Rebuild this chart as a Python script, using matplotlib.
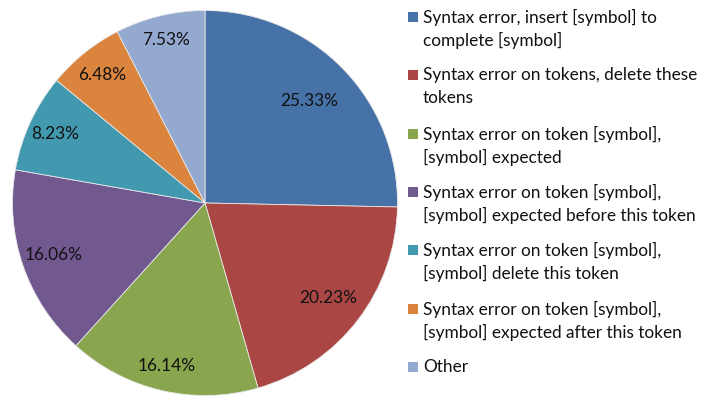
import matplotlib
matplotlib.use("Agg")
import numpy as np
import matplotlib.pyplot as plt
from matplotlib.patches import Rectangle

categories = [
    "Syntax error, insert [symbol] to\ncomplete [symbol]",
    "Syntax error on tokens, delete these\ntokens",
    "Syntax error on token [symbol],\n[symbol] expected",
    "Syntax error on token [symbol],\n[symbol] expected before this token",
    "Syntax error on token [symbol],\n[symbol] delete this token",
    "Syntax error on token [symbol],\n[symbol] expected after this token",
    "Other",
]
values = [25.33, 20.23, 16.14, 16.06, 8.23, 6.48, 7.53]
colors = ["#4672A7", "#AA4644", "#89A54E", "#71588F", "#4198AF", "#DB843D", "#93A9CF"]
label_dist = [0.76, 0.81, 0.87, 0.83, 0.86, 0.85, 0.87]

FONT = ["Lato", "DejaVu Sans"]
FS = 12.4
W, H = 707, 404
fig = plt.figure(figsize=(W / 100, H / 100), dpi=100)
fig.patch.set_facecolor("white")

cx, cy, r = 205, 201, 192.5
ax = fig.add_axes([(cx - r) / W, (cy - r) / H, 2 * r / W, 2 * r / H])
wedges, texts, autotexts = ax.pie(
    values, colors=colors, startangle=90, counterclock=False,
    autopct=lambda p: f"{p:.2f}%", pctdistance=0.83, radius=1.0,
    wedgeprops=dict(edgecolor="#e8e8e8", linewidth=0.6),
    textprops=dict(fontsize=FS, family=FONT, color="#111111"),
)
for w, t, d in zip(wedges, autotexts, label_dist):
    a = np.deg2rad((w.theta1 + w.theta2) / 2)
    t.set_position((d * np.cos(a), d * np.sin(a)))
ax.set_xlim(-1, 1)
ax.set_ylim(-1, 1)
ax.set_aspect("equal")
ax.axis("off")

# legend drawn manually
first_y = [17, 75, 134, 192, 250, 309, 367]
line_h = 23
for i, (lab, c) in enumerate(zip(categories, colors)):
    ytop = first_y[i]
    fig.patches.append(Rectangle(((408) / W, 1 - (ytop + 5) / H), 10 / W, 10 / H,
                                 transform=fig.transFigure, facecolor=c, edgecolor="none"))
    for j, line in enumerate(lab.split("\n")):
        fig.text(423 / W, 1 - (ytop + j * line_h) / H, line, fontsize=FS, family=FONT,
                 va="center", ha="left", color="#111111")

fig.savefig("out.png", dpi=100)
